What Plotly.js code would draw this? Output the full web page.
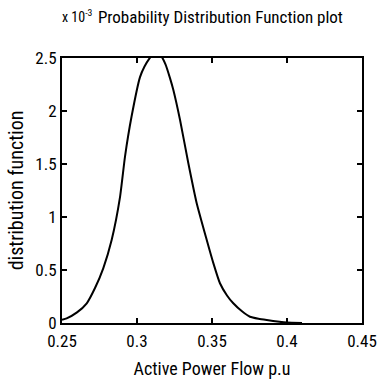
<!DOCTYPE html>
<html><head><meta charset="utf-8">
<script src="https://cdn.plot.ly/plotly-3.0.1.min.js"></script>
<style>body{margin:0;background:#fff}#c{width:380px;height:382px}</style>
</head><body><div id="c"></div>
<script>
const powerFlow = [0.250,0.2531,0.2600,0.2665,0.2720,0.2775,0.2831,0.2887,0.2920,0.2964,0.3020,0.3050,0.3080,0.3105,0.3131,0.3160,0.3190,0.3220,0.3242,0.3287,0.3342,0.3398,0.3465,0.3510,0.3553,0.3600,0.3642,0.3700,0.3753,0.3810,0.3865,0.3950,0.4000,0.4100];
const pdfValues = [0.03,0.044,0.10,0.186,0.33,0.516,0.783,1.19,1.57,1.95,2.32,2.42,2.49,2.53,2.545,2.52,2.44,2.31,2.20,1.915,1.51,1.13,0.783,0.56,0.375,0.26,0.186,0.11,0.059,0.04,0.028,0.012,0.005,0.0];
const xTicks = [0.25,0.3,0.35,0.4,0.45];
const xTickLabels = ['0.25','0.3','0.35','0.4','0.45'];
const yTicks = [0,0.5,1,1.5,2,2.5];
const yTickLabels = ['0','0.5','1','1.5','2','2.5'];

const FONT = 'Roboto Condensed, Liberation Sans Narrow, Arial Narrow, sans-serif';
Plotly.newPlot('c', [{
  x: powerFlow, y: pdfValues, type: 'scatter', mode: 'lines',
  line: {color: '#000', width: 2, shape: 'spline', smoothing: 0.5}
}], {
  width: 380, height: 382,
  margin: {l: 62, r: 18, t: 58, b: 59},
  paper_bgcolor: '#fff', plot_bgcolor: '#fff',
  showlegend: false,
  font: {family: FONT, color: '#000', size: 17},
  title: {text: 'Probability Distribution Function plot', x: 0.58, xanchor: 'center', y: 0.955, yanchor: 'middle', font: {family: FONT, size: 17, color: '#000'}},
  xaxis: {
    range: [0.25, 0.45], tickvals: xTicks, ticktext: xTickLabels,
    ticks: 'inside', ticklen: 5, tickwidth: 1.5, tickcolor: '#000',
    showline: true, linecolor: '#000', linewidth: 2, mirror: 'ticks',
    showgrid: false, zeroline: false, ticklabelstandoff: 2,
    tickfont: {family: FONT, size: 17, color: '#000'},
    title: {text: 'Active Power Flow p.u', font: {family: FONT, size: 18, color: '#000'}, standoff: 12}
  },
  yaxis: {
    range: [0, 2.5], tickvals: yTicks, ticktext: yTickLabels,
    ticks: 'inside', ticklen: 5, tickwidth: 1.5, tickcolor: '#000',
    showline: true, linecolor: '#000', linewidth: 2, mirror: 'ticks',
    showgrid: false, zeroline: false,
    tickfont: {family: FONT, size: 17, color: '#000'},
    title: {text: 'distribution function', font: {family: FONT, size: 20, color: '#000'}, standoff: 6}
  },
  annotations: [{
    text: 'x 10<sup>-3</sup>', xref: 'paper', yref: 'paper', x: 0, y: 1, xanchor: 'left', yanchor: 'bottom',
    xshift: -2, yshift: 31, showarrow: false, font: {family: FONT, size: 14, color: '#000'}
  }]
}, {displayModeBar: false, staticPlot: true});
</script></body></html>
